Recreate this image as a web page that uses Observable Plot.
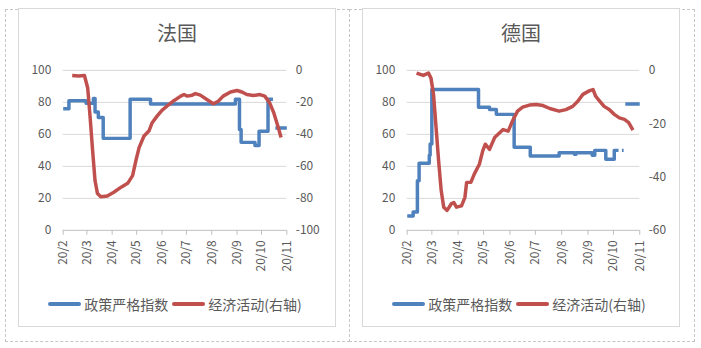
<!DOCTYPE html>
<html>
<head>
<meta charset="utf-8">
<script src="https://cdn.jsdelivr.net/npm/d3@7"></script>
<script src="https://cdn.jsdelivr.net/npm/@observablehq/plot@0.6"></script>
<style>
  html, body { margin: 0; padding: 0; background: #fff; }
  #root { position: relative; width: 701px; height: 348px; overflow: hidden; font-family: "Noto Sans CJK SC", sans-serif; }
  .dash { position: absolute; border: 1px dashed #c6c6c6; box-sizing: border-box; }
  .panel { position: absolute; border: 1px solid #d9d9d9; box-sizing: border-box; background: #fff; }
  .title { position: absolute; width: 100%; text-align: center; font-size: 20px; line-height: 20px; color: #595959; }
  .plot { position: absolute; }
  .legend { position: absolute; width: 100%; display: flex; justify-content: center; align-items: center; font-size: 14px; color: #595959; line-height: 16px; }
  .sw { display: inline-block; width: 33px; height: 4px; border-radius: 2px; margin-right: 3px; }
  .item { display: flex; align-items: center; margin-right: 4px; }
</style>
</head>
<body>
<div id="root"></div>
<script>
// ---------- data ----------
const monthTicks = ["2020-02-01","2020-03-01","2020-04-01","2020-05-01","2020-06-01","2020-07-01","2020-08-01","2020-09-01","2020-10-01","2020-11-01"];
const monthLabels = ["20/2","20/3","20/4","20/5","20/6","20/7","20/8","20/9","20/10","20/11"];
const leftTicks = [0, 20, 40, 60, 80, 100];
const frRightTicks = [0, -20, -40, -60, -80, -100];
const deRightTicks = [0, -20, -40, -60];
const seriesNames = ["政策严格指数", "经济活动(右轴)"];
const titles = ["法国", "德国"];

// France: policy stringency index (left axis)
const frPolicyDates = ["2020-02-01","2020-02-08","2020-02-29","2020-03-09","2020-03-11","2020-03-15","2020-03-21","2020-04-23","2020-05-18","2020-08-30","2020-09-04","2020-09-06","2020-09-23","2020-09-28","2020-10-09","2020-10-15","2020-10-16","2020-10-18","2020-11-01"];
const frPolicy = [76, 81, 79.5, 82.5, 74, 70.5, 57.5, 82, 79, 82, 63, 55, 53, 62, 82, 82, null, 64, 64];

// France: economic activity (right axis)
const frActivityDates = ["2020-02-12","2020-02-20","2020-02-27","2020-03-02","2020-03-05","2020-03-08","2020-03-11","2020-03-14","2020-03-18","2020-03-26","2020-04-03","2020-04-12","2020-04-20","2020-04-26","2020-04-30","2020-05-04","2020-05-10","2020-05-16","2020-05-20","2020-05-26","2020-06-01","2020-06-07","2020-06-16","2020-06-24","2020-06-28","2020-07-02","2020-07-08","2020-07-12","2020-07-18","2020-07-26","2020-08-03","2020-08-09","2020-08-15","2020-08-24","2020-09-01","2020-09-07","2020-09-13","2020-09-21","2020-09-29","2020-10-05","2020-10-11","2020-10-16","2020-10-21","2020-10-25"];
const frActivity = [-3.2, -3.5, -3.2, -11, -29.6, -50, -69, -77, -79, -78.5, -76.2, -73, -70.6, -65.8, -56.5, -48.3, -41, -37.9, -32.7, -28.6, -25, -22.4, -18.8, -16.1, -15.1, -16.1, -15.5, -14.5, -15.5, -18.2, -20.9, -19.3, -16.1, -13.5, -12.6, -13.5, -15.1, -15.7, -15.1, -16.1, -20.3, -26.5, -34.8, -42];

// Germany: policy stringency index (left axis)
const dePolicyDates = ["2020-02-01","2020-02-08","2020-02-13","2020-02-15","2020-02-27","2020-02-28","2020-03-01","2020-04-25","2020-05-08","2020-05-16","2020-06-06","2020-06-25","2020-07-29","2020-08-16","2020-08-18","2020-09-06","2020-09-09","2020-09-22","2020-10-02","2020-10-07","2020-10-08","2020-10-11","2020-10-13","2020-10-14","2020-10-15","2020-11-01"];
const dePolicy = [9, 11.5, 31, 42, 47, 54, 88, 77, 75.5, 72.5, 52, 46.5, 48.5, 47.5, 48.5, 47, 50, 44.5, 50, 50, null, 50, 50, null, 79, 79];

// Germany: economic activity (right axis)
const deActivityDates = ["2020-02-12","2020-02-20","2020-02-26","2020-02-29","2020-03-03","2020-03-06","2020-03-09","2020-03-12","2020-03-15","2020-03-19","2020-03-24","2020-03-27","2020-03-30","2020-04-05","2020-04-09","2020-04-11","2020-04-16","2020-04-20","2020-04-26","2020-04-30","2020-05-03","2020-05-08","2020-05-14","2020-05-20","2020-05-24","2020-05-30","2020-06-04","2020-06-10","2020-06-16","2020-06-24","2020-07-02","2020-07-10","2020-07-18","2020-07-29","2020-08-06","2020-08-14","2020-08-20","2020-08-26","2020-09-03","2020-09-07","2020-09-10","2020-09-15","2020-09-20","2020-09-26","2020-10-02","2020-10-08","2020-10-14","2020-10-19","2020-10-24"];
const deActivity = [-1, -1.9, -1, -2.9, -9, -21.5, -33.9, -45, -51.3, -52.5, -50, -49.6, -51.3, -50.8, -47.6, -42, -42, -38.9, -35.2, -30.2, -27.7, -29.6, -25.2, -23.4, -22.2, -22.8, -19, -15.3, -13.8, -13, -12.8, -13.2, -14.3, -15.3, -14.7, -13.5, -11.6, -9, -7.6, -7.2, -9.7, -11.6, -13.5, -14.7, -16.5, -17.8, -18.4, -19.6, -22.4];

// ---------- styling ----------
const BLUE = "#4F81BD", RED = "#C0504D", TEXT = "#595959";

const root = document.getElementById("root");
function el(cls, style, parent) {
  const d = document.createElement("div");
  d.className = cls;
  Object.assign(d.style, style);
  (parent || root).appendChild(d);
  return d;
}

function panel({left, dashLeft, dashWidth, rightTicks, policyDates, policy, actDates, act, title, marginRight}) {
  el("dash", {left: dashLeft + "px", top: "9px", width: dashWidth + "px", height: "333px"});
  const p = el("panel", {left: left + "px", top: "8px", width: "318px", height: "319px"});
  const t = el("title", {top: "14px"}, p);
  t.textContent = title;

  const rmin = d3.min(rightTicks), rmax = d3.max(rightTicks);
  const toLeft = v => (v - rmin) / (rmax - rmin) * 100;
  const rightPos = rightTicks.map(toLeft);
  const ticks = monthTicks.map(d => new Date(d));

  const polData = policyDates.map((d, i) => ({date: new Date(d), v: policy[i]}));
  const actData = actDates.map((d, i) => ({date: new Date(d), v: act[i]}));

  const chart = Plot.plot({
    width: 318, height: 230,
    marginTop: 19, marginBottom: 50, marginLeft: 44, marginRight,
    style: {fontFamily: '"Noto Sans CJK SC", sans-serif', fontSize: "12px", color: TEXT, background: "transparent", overflow: "visible"},
    x: {type: "utc", domain: [ticks[0], ticks[ticks.length - 1]]},
    y: {domain: [0, 100]},
    marks: [
      Plot.ruleY(leftTicks.filter(d => d > 0), {stroke: "#d9d9d9", strokeWidth: 1}),
      Plot.ruleY([0], {stroke: "#bfbfbf", strokeWidth: 1}),
      Plot.axisY(leftTicks, {anchor: "left", tickSize: 0, tickPadding: 12, label: null, fill: TEXT}),
      Plot.axisY(rightPos, {anchor: "right", tickSize: 0, tickPadding: 9, label: null, fill: TEXT,
        tickFormat: d => String(rightTicks[rightPos.findIndex(p => Math.abs(p - d) < 1e-6)])}),
      Plot.axisX(ticks, {anchor: "bottom", tickSize: 5, tickPadding: 5, tickRotate: -90, label: null, stroke: "#bfbfbf", fill: TEXT,
        tickFormat: d => monthLabels[ticks.findIndex(t => +t === +d)]}),
      Plot.line(polData, {x: "date", y: "v", curve: "step-after", stroke: BLUE, strokeWidth: 3.5, strokeLinecap: "butt"}),
      Plot.line(actData, {x: "date", y: d => toLeft(d.v), stroke: RED, strokeWidth: 3.5, strokeLinecap: "butt"})
    ]
  });
  const holder = el("plot", {left: "0px", top: "42px"}, p);
  holder.appendChild(chart);

  const lg = el("legend", {top: "287px"}, p);
  [[BLUE, seriesNames[0]], [RED, seriesNames[1]]].forEach(([c, name]) => {
    const it = document.createElement("div");
    it.className = "item";
    const sw = document.createElement("span");
    sw.className = "sw";
    sw.style.background = c;
    const tx = document.createElement("span");
    tx.textContent = name;
    it.appendChild(sw); it.appendChild(tx);
    lg.appendChild(it);
  });
}

panel({left: 18, dashLeft: 5, dashWidth: 345, rightTicks: frRightTicks, policyDates: frPolicyDates, policy: frPolicy, actDates: frActivityDates, act: frActivity, title: titles[0], marginRight: 49});
panel({left: 362, dashLeft: 349, dashWidth: 346, rightTicks: deRightTicks, policyDates: dePolicyDates, policy: dePolicy, actDates: deActivityDates, act: deActivity, title: titles[1], marginRight: 40});
</script>
</body>
</html>
